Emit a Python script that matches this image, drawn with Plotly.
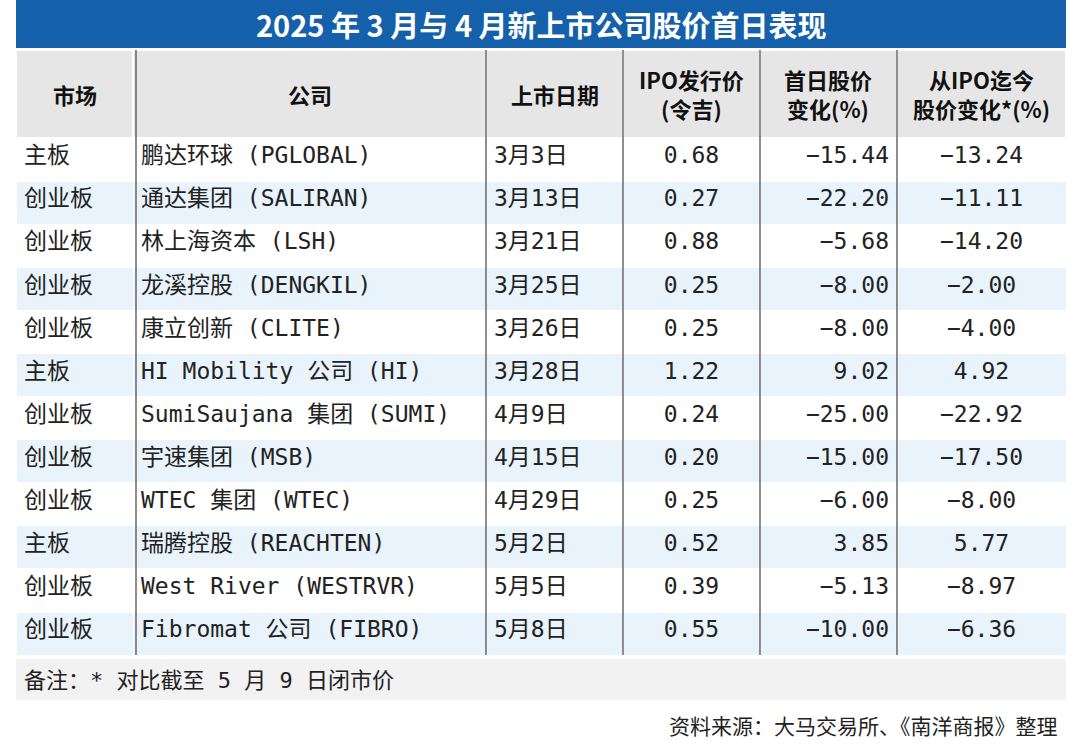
import plotly.graph_objects as go

market = ["主板","创业板","创业板","创业板","创业板","主板","创业板","创业板","创业板","主板","创业板","创业板"]
company = ["鹏达环球 (PGLOBAL)","通达集团 (SALIRAN)","林上海资本 (LSH)","龙溪控股 (DENGKIL)","康立创新 (CLITE)",
           "HI Mobility 公司 (HI)","SumiSaujana 集团 (SUMI)","宇速集团 (MSB)","WTEC 集团 (WTEC)","瑞腾控股 (REACHTEN)",
           "West River (WESTRVR)","Fibromat 公司 (FIBRO)"]
list_date = ["3月3日","3月13日","3月21日","3月25日","3月26日","3月28日","4月9日","4月15日","4月29日","5月2日","5月5日","5月8日"]
ipo_price = ["0.68","0.27","0.88","0.25","0.25","1.22","0.24","0.20","0.25","0.52","0.39","0.55"]
first_day = ["−15.44","−22.20","−5.68","−8.00","−8.00","9.02","−25.00","−15.00","−6.00","3.85","−5.13","−10.00"]
since_ipo = ["−13.24","−11.11","−14.20","−2.00","−4.00","4.92","−22.92","−17.50","−8.00","5.77","−8.97","−6.36"]
headers = ["市场","公司","上市日期","IPO发行价<br>(令吉)","首日股价<br>变化(%)","从IPO迄今<br>股价变化*(%)"]

W, H = 1084, 756
fills = ["#FFFFFF" if i % 2 == 0 else "#E8F3FC" for i in range(len(market))]
body_font = "DejaVu Sans Mono, Noto Sans CJK SC"
col_edges = [16, 133, 486, 623, 760, 897, 1066]
widths = [col_edges[i+1]-col_edges[i] for i in range(6)]

fig = go.Figure(go.Table(
    domain=dict(x=[16/W, 1066/W], y=[1-700/H, 1-50/H]),
    columnwidth=widths,
    header=dict(values=[""]*6, fill_color="#E6E6E6",
                line=dict(color="white", width=2), height=88),
    cells=dict(values=[market, company, list_date, ipo_price, first_day, since_ipo],
               fill_color=[fills]*6, line=dict(color="white", width=1),
               align=["left","left","left","center","right","center"], height=43.1,
               font=dict(family=body_font, size=23, color="#222"))
))

shapes = [dict(type="rect", xref="paper", yref="paper", x0=16/W, x1=1066/W, y0=1-48/H, y1=1,
               fillcolor="#1560AA", line_width=0, layer="above"),
          dict(type="rect", xref="paper", yref="paper", x0=16/W, x1=1066/W, y0=1-700/H, y1=1-659/H,
               fillcolor="#F2F2F2", line_width=0, layer="above")]
for xb in [136, 486, 623, 760, 897]:
    shapes.append(dict(type="line", xref="paper", yref="paper", x0=xb/W, x1=xb/W, y0=1-655/H, y1=1-50/H,
                       line=dict(color="#444", width=1.2), layer="above"))
anns = [dict(text="<b>2025 年 3 月与 4 月新上市公司股价首日表现</b>", xref="paper", yref="paper",
             x=541/W, y=1-24/H, xanchor="center", yanchor="middle", showarrow=False,
             font=dict(family="Noto Sans CJK SC", size=29, color="white")),
        dict(text="备注：* 对比截至 5 月 9 日闭市价", xref="paper", yref="paper", x=22/W, y=1-680/H,
             xanchor="left", yanchor="middle", showarrow=False, font=dict(family=body_font, size=22, color="#222")),
        dict(text="资料来源：大马交易所、《南洋商报》整理", xref="paper", yref="paper", x=1060/W, y=1-725/H,
             xanchor="right", yanchor="middle", showarrow=False, font=dict(family="Noto Sans CJK SC", size=21, color="#222"))]
for i, h in enumerate(headers):
    anns.append(dict(text=f"<b>{h}</b>", xref="paper", yref="paper", align="center",
                     x=(col_edges[i]+col_edges[i+1])/2/W, y=1-94/H, xanchor="center", yanchor="middle",
                     showarrow=False, font=dict(family="Noto Sans CJK SC", size=22, color="#111")))
fig.update_layout(width=W, height=H, margin=dict(l=0, r=0, t=0, b=0), paper_bgcolor="white",
                  shapes=shapes, annotations=anns)
fig.write_html("out.html", config={"displayModeBar": False},
               post_script="document.body.style.margin='0';document.body.style.overflow='hidden';")
